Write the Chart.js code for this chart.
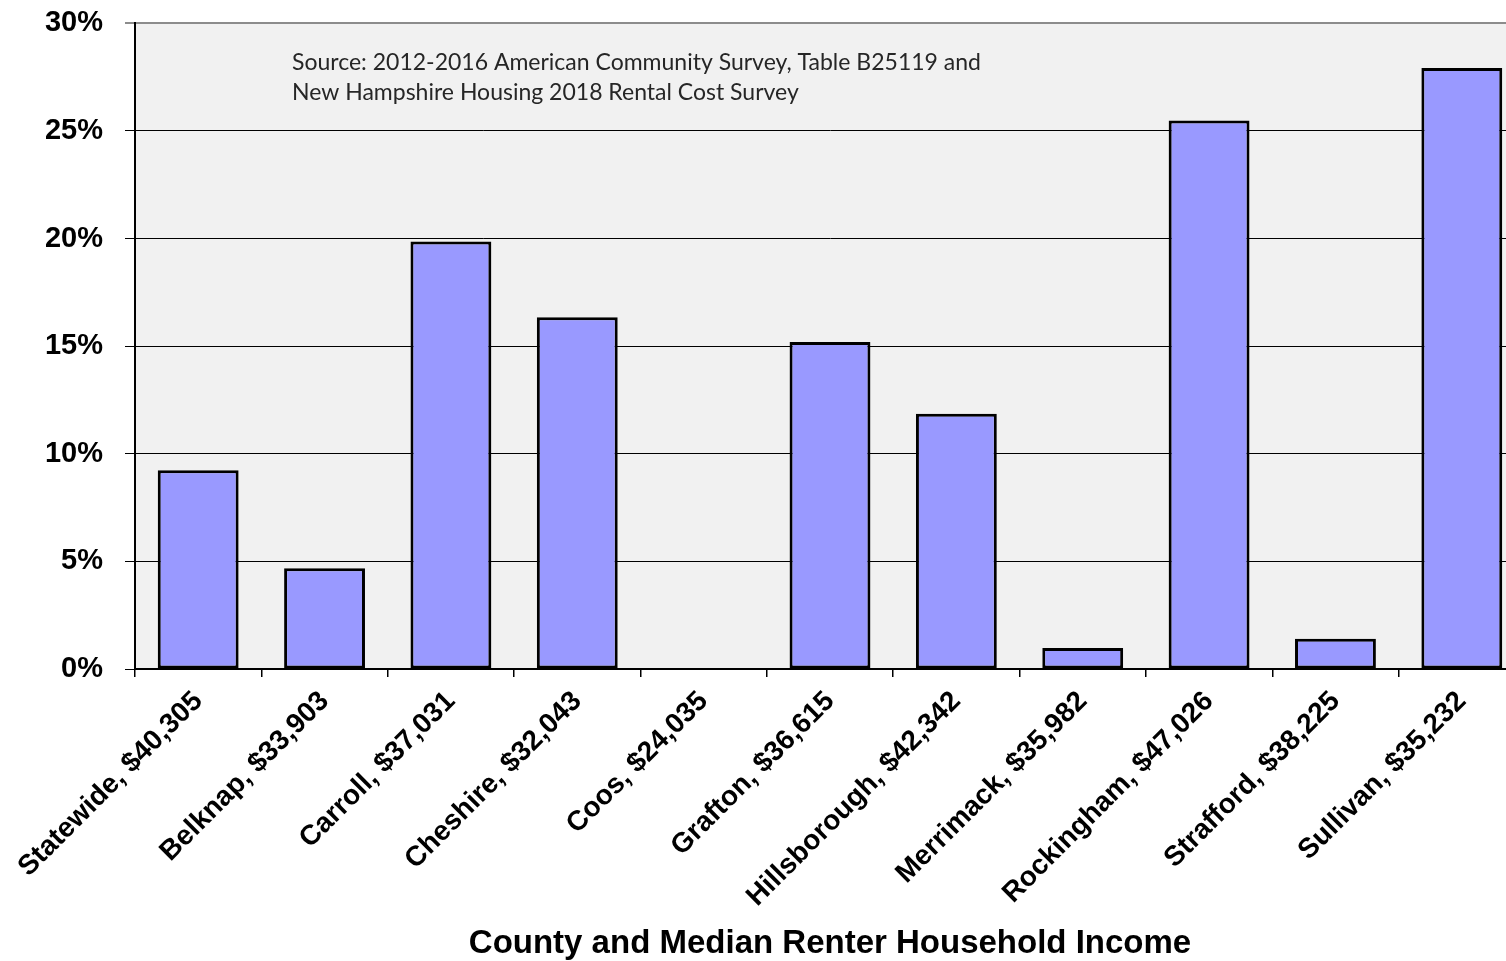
<!DOCTYPE html>
<html>
<head>
<meta charset="utf-8">
<script src="https://cdn.jsdelivr.net/npm/chart.js@4/dist/chart.umd.min.js"></script>
<style>
  html, body { margin: 0; padding: 0; background: #fff; overflow: hidden; }
  .chartBox { width: 1530px; height: 977px; margin-top: -16px; }
</style>
</head>
<body>
<div class="chartBox"><canvas id="rentChart"></canvas></div>
<script>
const counties = [
  "Statewide, $40,305",
  "Belknap, $33,903",
  "Carroll, $37,031",
  "Cheshire, $32,043",
  "Coos, $24,035",
  "Grafton, $36,615",
  "Hillsborough, $42,342",
  "Merrimack, $35,982",
  "Rockingham, $47,026",
  "Strafford, $38,225",
  "Sullivan, $35,232",
];
const shares = [9.24, 4.68, 19.87, 16.35, 0, 15.2, 11.86, 0.98, 25.49, 1.41, 27.93];
const sourceLines = [
  "Source: 2012-2016 American Community Survey, Table B25119 and",
  "New Hampshire Housing 2018 Rental Cost Survey",
];
const axisFont = "'Liberation Sans', Arial, sans-serif";

// grey plot area + source note
const plotBackground = {
  id: "plotBackground",
  beforeDraw(chart) {
    const { ctx, chartArea } = chart;
    ctx.save();
    ctx.fillStyle = "#f1f1f1";
    ctx.fillRect(chartArea.left, chartArea.top, chartArea.right - chartArea.left, chartArea.bottom - chartArea.top);
    ctx.restore();
  },
  afterDraw(chart) {
    const { ctx, chartArea } = chart;
    ctx.save();
    ctx.fillStyle = "#262626";
    ctx.font = "23px Lato, 'Open Sans', sans-serif";
    ctx.textBaseline = "middle";
    sourceLines.forEach((line, i) => {
      ctx.fillText(line, chartArea.left + 157, chartArea.top + 39 + i * 30);
    });
    ctx.restore();
  },
};

const ctx = document.querySelector("#rentChart");
new Chart(ctx, {
  type: "bar",
  data: {
    labels: counties,
    datasets: [
      {
        data: shares,
        backgroundColor: "#9999ff",
        borderColor: "#000",
        borderWidth: 3,
        borderSkipped: false,
        categoryPercentage: 1,
        barPercentage: 0.64,
      },
    ],
  },
  options: {
    responsive: true,
    maintainAspectRatio: false,
    animation: false,
    layout: { autoPadding: false, padding: { top: 22, right: 5, left: 0, bottom: 0 } },
    plugins: {
      legend: { display: false },
      tooltip: { enabled: false },
    },
    scales: {
      x: {
        offset: true,
        grid: {
          offset: true,
          drawOnChartArea: false,
          drawTicks: true,
          tickLength: 8,
          color: "#000",
          lineWidth: 1.5,
        },
        border: { color: "#000", width: 2 },
        ticks: {
          minRotation: 45,
          maxRotation: 45,
          autoSkip: false,
          padding: 8,
          color: "#000",
          font: { family: axisFont, size: 28, weight: "bold" },
        },
        title: {
          display: true,
          text: "County and Median Renter Household Income",
          color: "#000",
          padding: { top: 0, bottom: -3 },
          font: { family: axisFont, size: 33, weight: "bold" },
        },
        afterFit(scale) {
          scale.height = 292;
        },
      },
      y: {
        min: 0,
        max: 30,
        grid: {
          color: (c) => (c.tick && c.tick.value === 30 ? "#8c8c8c" : "#000"),
          lineWidth: (c) => (c.tick && c.tick.value === 30 ? 2 : 1),
          tickLength: 10,
        },
        border: { color: "#000", width: 2 },
        ticks: {
          stepSize: 5,
          padding: 22,
          color: "#000",
          font: { family: axisFont, size: 29, weight: "bold" },
          callback: (v) => v + "%",
        },
        afterFit(scale) {
          scale.width = 135;
        },
      },
    },
  },
  plugins: [plotBackground],
});
</script>
</body>
</html>
